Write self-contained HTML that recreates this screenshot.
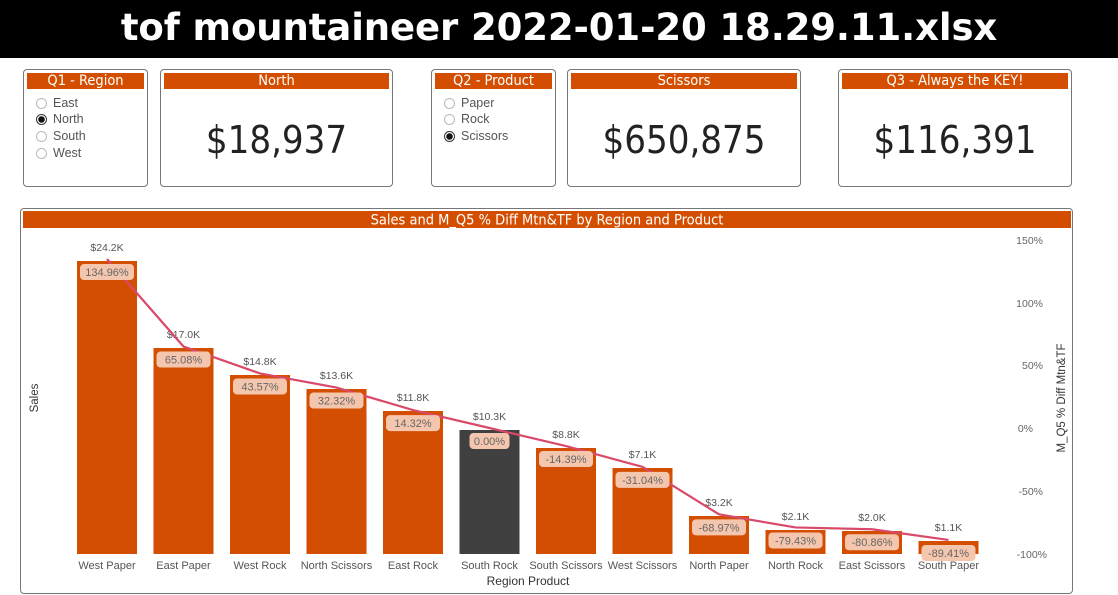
<!DOCTYPE html>
<html><head><style>
body{margin:0;width:1118px;height:595px;background:#fff;position:relative;overflow:hidden;font-family:"DejaVu Sans Condensed","Liberation Sans",sans-serif}
.title{position:absolute;left:0;top:0;width:1118px;height:58px;background:#000;color:#fff;font-size:37px;font-weight:bold;text-align:center;line-height:56px;font-family:"DejaVu Sans","Liberation Sans",sans-serif;letter-spacing:-0.1px}
.card{position:absolute;border:1px solid #777;border-radius:4px;background:#fff;box-sizing:border-box}
.hd{position:absolute;left:3px;right:3px;top:3px;height:16px;background:#d34e00;color:#fff;font-size:14.5px;text-align:center;line-height:16px}
.big{position:absolute;left:0;right:0;top:48px;text-align:center;font-size:38px;color:#222}
.opt{position:absolute;left:12px;font-size:12.5px;color:#555;font-family:"Liberation Sans",sans-serif}
.opt i{display:inline-block;width:11px;height:11px;border:1px solid #bbb;border-radius:50%;vertical-align:-2px;margin-right:6px;box-sizing:border-box}
.opt i.on{border:1px solid #333;background:radial-gradient(circle,#111 3px,#fff 3.5px)}
</style></head><body>
<div class="title">tof mountaineer 2022-01-20 18.29.11.xlsx</div>

<div class="card" style="left:23px;top:69px;width:125px;height:118px"><div class="hd">Q1 - Region</div>
<div class="opt" style="top:26px"><i></i>East</div><div class="opt" style="top:42px"><i class="on"></i>North</div>
<div class="opt" style="top:59px"><i></i>South</div><div class="opt" style="top:76px"><i></i>West</div></div>
<div class="card" style="left:160px;top:69px;width:233px;height:118px"><div class="hd">North</div><div class="big">$18,937</div></div>
<div class="card" style="left:431px;top:69px;width:125px;height:118px"><div class="hd">Q2 - Product</div>
<div class="opt" style="top:26px"><i></i>Paper</div><div class="opt" style="top:42px"><i></i>Rock</div>
<div class="opt" style="top:59px"><i class="on"></i>Scissors</div></div>
<div class="card" style="left:567px;top:69px;width:234px;height:118px"><div class="hd">Scissors</div><div class="big">$650,875</div></div>
<div class="card" style="left:838px;top:69px;width:234px;height:118px"><div class="hd">Q3 - Always the KEY!</div><div class="big">$116,391</div></div>

<div class="card" style="left:20px;top:208px;width:1053px;height:386px"></div>
<svg width="1118" height="595" style="position:absolute;left:0;top:0" font-family="Liberation Sans, sans-serif">
<rect x="23" y="211" width="1048" height="17" fill="#d34e00"/>
<text x="547" y="224.5" text-anchor="middle" fill="#fff" font-size="14.5" font-family="DejaVu Sans Condensed, Liberation Sans, sans-serif">Sales and M_Q5 % Diff Mtn&amp;TF by Region and Product</text>
<g font-size="10.5" fill="#666" text-anchor="end">
<text x="1043" y="244">150%</text><text x="1043" y="307">100%</text><text x="1043" y="369">50%</text><text x="1033" y="432">0%</text><text x="1043" y="495">-50%</text><text x="1047" y="558">-100%</text></g>
<text transform="translate(1065,398) rotate(-90)" font-size="11.5" fill="#333" text-anchor="middle">M_Q5 % Diff Mtn&amp;TF</text>
<text transform="translate(38,398) rotate(-90)" font-size="11.5" fill="#333" text-anchor="middle">Sales</text>
<text x="528" y="585" font-size="12" fill="#333" text-anchor="middle">Region Product</text>
<g id="bars"></g>
</svg>
<script>
var d=[["West Paper",261,"$24.2K",134.96],["East Paper",348,"$17.0K",65.08],["West Rock",375,"$14.8K",43.57],["North Scissors",389,"$13.6K",32.32],["East Rock",411,"$11.8K",14.32],["South Rock",430,"$10.3K",0],["South Scissors",448,"$8.8K",-14.39],["West Scissors",468,"$7.1K",-31.04],["North Paper",516,"$3.2K",-68.97],["North Rock",530,"$2.1K",-79.43],["East Scissors",531,"$2.0K",-80.86],["South Paper",541,"$1.1K",-89.41]];
var s="",pts=[],lab="";
d.forEach(function(r,i){var cx=107+i*76.5;var c=i==5?"#404040":"#d34e00";
s+='<rect x="'+(cx-30)+'" y="'+r[1]+'" width="60" height="'+(554-r[1])+'" fill="'+c+'"/>';
s+='<text x="'+cx+'" y="'+(r[1]-10)+'" font-size="10.5" fill="#555" text-anchor="middle">'+r[2]+'</text>';
s+='<text x="'+cx+'" y="569" font-size="11" fill="#555" text-anchor="middle">'+r[0]+'</text>';
var y=428-r[3]*1.252;pts.push(cx+","+y);
var t=r[3].toFixed(2)+"%";var w=i==5?40:54;
lab+='<rect x="'+(cx-w/2)+'" y="'+(y+5)+'" width="'+w+'" height="16" rx="4" fill="#f4c6ad"/><text x="'+cx+'" y="'+(y+17)+'" font-size="11" fill="#666" text-anchor="middle">'+t+'</text>';});
s+='<polyline points="'+pts.join(" ")+'" fill="none" stroke="#d8496a" stroke-width="2.2"/>'+lab;
document.getElementById("bars").innerHTML=s;
</script>
</body></html>
